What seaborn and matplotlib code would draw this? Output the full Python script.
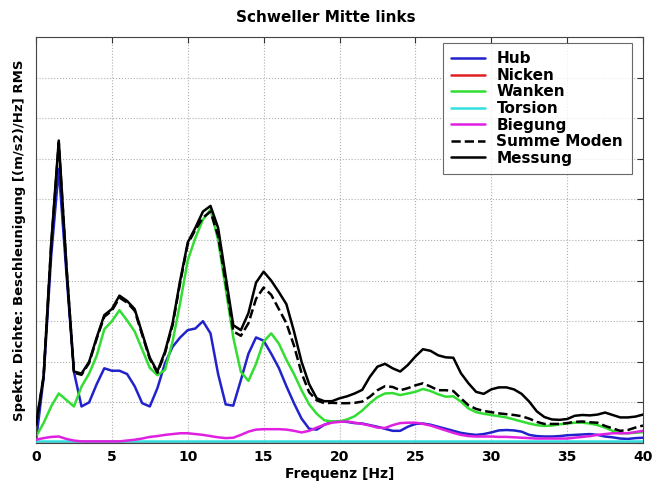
import numpy as np
import pandas as pd
import matplotlib
matplotlib.use("Agg")
import matplotlib.pyplot as plt
import seaborn as sns

# ---- data ----
freq = [i * 0.5 for i in range(81)]  # 0 .. 40 Hz, 0.5 Hz resolution

messung = [0.45, 1.65, 4.9, 7.45, 4.4, 1.76, 1.71, 2.0, 2.6, 3.15,
           3.3, 3.63, 3.5, 3.3, 2.7, 2.1, 1.76, 2.25, 2.95, 4.0,
           4.94, 5.3, 5.7, 5.84, 5.3, 4.1, 2.9, 2.78, 3.2, 3.95,
           4.22, 4.0, 3.72, 3.42, 2.75, 2.0, 1.45, 1.1, 1.03, 1.03,
           1.1, 1.15, 1.22, 1.31, 1.63, 1.88, 1.95, 1.84, 1.76, 1.92,
           2.13, 2.31, 2.27, 2.16, 2.11, 2.1, 1.72, 1.47, 1.26, 1.21,
           1.32, 1.37, 1.37, 1.32, 1.21, 1.02, 0.78, 0.64, 0.58, 0.57,
           0.59, 0.67, 0.69, 0.68, 0.7, 0.75, 0.69, 0.63, 0.63, 0.65,
           0.7]

summe_moden = [0.43, 1.62, 4.86, 7.4, 4.36, 1.73, 1.68, 1.97, 2.57, 3.11,
               3.26, 3.58, 3.46, 3.26, 2.66, 2.07, 1.73, 2.21, 2.9, 3.95,
               4.9, 5.25, 5.55, 5.7, 5.1, 3.95, 2.75, 2.64, 2.95, 3.55,
               3.83, 3.65, 3.3, 2.95, 2.4, 1.72, 1.25, 1.05, 0.98, 0.99,
               0.98, 0.98, 0.99, 1.02, 1.14, 1.3, 1.4, 1.38, 1.3, 1.35,
               1.42, 1.47, 1.39, 1.3, 1.3, 1.28, 1.1, 0.93, 0.84, 0.79,
               0.76, 0.73, 0.71, 0.69, 0.66, 0.6, 0.52, 0.47, 0.47, 0.47,
               0.49, 0.52, 0.53, 0.51, 0.5, 0.42, 0.36, 0.3, 0.32, 0.38,
               0.43]

wanken = [0.16, 0.49, 0.9, 1.22, 1.06, 0.9, 1.39, 1.71, 2.15, 2.8,
          3.0, 3.27, 3.02, 2.75, 2.3, 1.85, 1.67, 1.8, 2.5, 3.45,
          4.5, 5.05, 5.5, 5.75, 5.0, 3.8, 2.6, 1.75, 1.53, 1.95,
          2.5, 2.7, 2.45, 2.05, 1.7, 1.3, 0.95, 0.72, 0.56, 0.53,
          0.53, 0.58, 0.66, 0.8, 0.98, 1.13, 1.22, 1.23, 1.18, 1.22,
          1.26, 1.33, 1.28, 1.2, 1.14, 1.15, 1.02, 0.85, 0.76, 0.72,
          0.69, 0.66, 0.63, 0.58, 0.53, 0.48, 0.44, 0.42, 0.43, 0.46,
          0.48, 0.5, 0.5, 0.48, 0.44, 0.38, 0.3, 0.24, 0.24, 0.25,
          0.27]

hub = [0.04, 1.6, 4.6, 6.75, 4.2, 1.75, 0.9, 1.0, 1.45, 1.84,
       1.78, 1.78, 1.7, 1.4, 0.98, 0.9, 1.35, 1.96, 2.37, 2.6,
       2.78, 2.82, 3.0, 2.7, 1.7, 0.95, 0.92, 1.55, 2.2, 2.6,
       2.52, 2.2, 1.85, 1.4, 0.98, 0.6, 0.35, 0.33, 0.45, 0.52,
       0.53, 0.52, 0.49, 0.48, 0.44, 0.4, 0.35, 0.3, 0.3, 0.4,
       0.47, 0.48, 0.45, 0.4, 0.35, 0.3, 0.25, 0.22, 0.2, 0.22,
       0.26, 0.31, 0.32, 0.31, 0.28, 0.2, 0.17, 0.16, 0.16, 0.17,
       0.19, 0.2, 0.21, 0.22, 0.2, 0.16, 0.14, 0.11, 0.1, 0.12,
       0.13]

biegung = [0.08, 0.12, 0.15, 0.16, 0.1, 0.06, 0.04, 0.04, 0.04, 0.04,
           0.04, 0.04, 0.06, 0.08, 0.11, 0.15, 0.17, 0.2, 0.22, 0.24,
           0.24, 0.22, 0.2, 0.17, 0.14, 0.12, 0.13, 0.2, 0.28, 0.33,
           0.34, 0.34, 0.34, 0.33, 0.3, 0.26, 0.3, 0.38, 0.45, 0.5,
           0.52, 0.53, 0.5, 0.47, 0.43, 0.38, 0.37, 0.44, 0.49, 0.5,
           0.5, 0.47, 0.43, 0.37, 0.31, 0.25, 0.2, 0.17, 0.16, 0.16,
           0.16, 0.15, 0.15, 0.14, 0.13, 0.12, 0.11, 0.11, 0.11, 0.11,
           0.11, 0.13, 0.15, 0.17, 0.2, 0.22, 0.24, 0.24, 0.24, 0.27,
           0.3]

torsion = [0.04] * 81
nicken = [0.01] * 81

x_ticks = [0, 5, 10, 15, 20, 25, 30, 35, 40]
title = "Schweller Mitte links"
xlabel = "Frequenz [Hz]"
ylabel = "Spektr. Dichte: Beschleunigung [(m/s2)/Hz] RMS"

series = [
    ("Hub", hub, "#2222cc", "-", 2),
    ("Nicken", nicken, "#e02020", "-", 2),
    ("Wanken", wanken, "#33dd33", "-", 2),
    ("Torsion", torsion, "#33e0e0", "-", 3),
    ("Biegung", biegung, "#e020e0", "-", 3.1),
    ("Summe Moden", summe_moden, "black", "--", 3.2),
    ("Messung", messung, "black", "-", 3.3),
]

# ---- plot ----
sns.set_style("white")
plt.rcParams["font.family"] = ["DejaVu Sans"]
plt.rcParams["font.weight"] = "bold"
plt.rcParams["text.color"] = "black"
plt.rcParams["axes.labelcolor"] = "black"
plt.rcParams["xtick.color"] = "black"
plt.rcParams["ytick.color"] = "black"

fig = plt.figure(figsize=(6.55, 4.82), dpi=100)
ax = fig.add_axes([36 / 655, 1 - 443 / 482, 607 / 655, 406 / 482])

for name, vals, col, ls, z in series:
    df = pd.DataFrame({"f": freq, "v": vals})
    sns.lineplot(data=df, x="f", y="v", ax=ax, color=col, linestyle=ls,
                 linewidth=1.8, label=name, zorder=z)

ax.set_xlim(0, 40)
ax.set_ylim(0, 10)
ax.set_xticks(x_ticks)
ax.set_xticklabels([str(t) for t in x_ticks], fontsize=10, fontweight="bold")
ax.set_yticks(range(0, 11))
ax.set_yticklabels([])
ax.grid(True, linestyle=":", color="#b0b0b0", linewidth=0.8)
ax.tick_params(direction="in", top=True, right=True, length=4, width=0.8,
               colors="#333333", pad=5)
ax.tick_params(axis="x", labelcolor="black")
for sp in ax.spines.values():
    sp.set_color("#444444")
    sp.set_linewidth(0.8)

ax.set_xlabel(xlabel, fontsize=10, fontweight="bold", labelpad=2.5, color="black")
ax.set_ylabel(ylabel, fontsize=9.5, fontweight="bold", color="black")
ax.yaxis.set_label_coords(-0.016, 0.5)
fig.text(326 / 655, 1 - 18 / 482, title, ha="center", va="center",
         fontsize=11, fontweight="bold", color="black")

leg = ax.legend(loc="upper left",
                bbox_to_anchor=((443 - 36) / 607, 1 - 6 / 406),
                borderaxespad=0, frameon=True, fancybox=False,
                handlelength=2.2, handletextpad=0.75, labelspacing=0.1,
                borderpad=0.55, prop={"weight": "bold", "size": 11})
leg.get_frame().set_edgecolor("#444444")
leg.get_frame().set_linewidth(0.8)
leg.set_zorder(5)
for t in leg.get_texts():
    t.set_color("black")

fig.savefig("out.png", dpi=100)
